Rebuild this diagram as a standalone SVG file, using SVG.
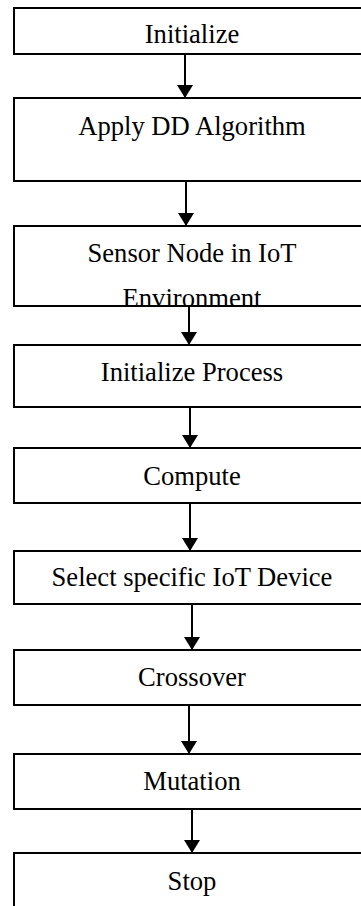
<svg xmlns="http://www.w3.org/2000/svg" width="361" height="906" viewBox="0 0 361 906">
  <defs>
    <style>
      .box { fill: #ffffff; stroke: #000000; stroke-width: 2; }
      .lbl { font-family: "Liberation Serif", "Times New Roman", serif; font-size: 26.6px; fill: #000000; text-anchor: middle; }
      .edge { stroke: #000000; stroke-width: 2; fill: none; marker-end: url(#arrow); }
    </style>
    <marker id="arrow" viewBox="0 0 13 16" refX="13" refY="8" markerWidth="13" markerHeight="16" markerUnits="userSpaceOnUse" orient="auto">
      <path d="M0,0 L13,8 L0,16 Z" fill="#000000"/>
    </marker>
    <!-- second line of the sensor label is cut off by its box -->
    <clipPath id="clip-sensor">
      <rect x="14" y="226" width="360" height="79"/>
    </clipPath>
  </defs>

  <rect width="361" height="906" fill="#ffffff"/>

  <g id="connectors">
    <path class="edge" d="M185,55 V98"/>
    <path class="edge" d="M186,182 V226"/>
    <path class="edge" d="M189,307 V345"/>
    <path class="edge" d="M190,408 V448"/>
    <path class="edge" d="M190,504 V551"/>
    <path class="edge" d="M192,605 V650"/>
    <path class="edge" d="M189,706 V754"/>
    <path class="edge" d="M192,810 V853"/>
  </g>

  <g id="initialize">
    <rect class="box" x="14" y="8" width="360" height="46"/>
    <text class="lbl" x="192" y="43">Initialize</text>
  </g>

  <g id="apply-dd">
    <rect class="box" x="14" y="98" width="360" height="83"/>
    <text class="lbl" x="192" y="135">Apply DD Algorithm</text>
  </g>

  <g id="sensor-node">
    <rect class="box" x="14" y="226" width="360" height="80"/>
    <g clip-path="url(#clip-sensor)">
      <text class="lbl" x="192" y="262">Sensor Node in IoT</text>
      <text class="lbl" x="192" y="307">Environment</text>
    </g>
  </g>

  <g id="initialize-process">
    <rect class="box" x="14" y="345" width="360" height="62"/>
    <text class="lbl" x="192" y="381">Initialize Process</text>
  </g>

  <g id="compute">
    <rect class="box" x="14" y="448" width="360" height="55"/>
    <text class="lbl" x="192" y="485">Compute</text>
  </g>

  <g id="select-device">
    <rect class="box" x="14" y="551" width="360" height="53"/>
    <text class="lbl" x="192" y="586">Select specific IoT Device</text>
  </g>

  <g id="crossover">
    <rect class="box" x="14" y="650" width="360" height="55"/>
    <text class="lbl" x="192" y="686">Crossover</text>
  </g>

  <g id="mutation">
    <rect class="box" x="14" y="754" width="360" height="55"/>
    <text class="lbl" x="192" y="790">Mutation</text>
  </g>

  <g id="stop">
    <rect class="box" x="14" y="853" width="360" height="70"/>
    <text class="lbl" x="192" y="890">Stop</text>
  </g>
</svg>
